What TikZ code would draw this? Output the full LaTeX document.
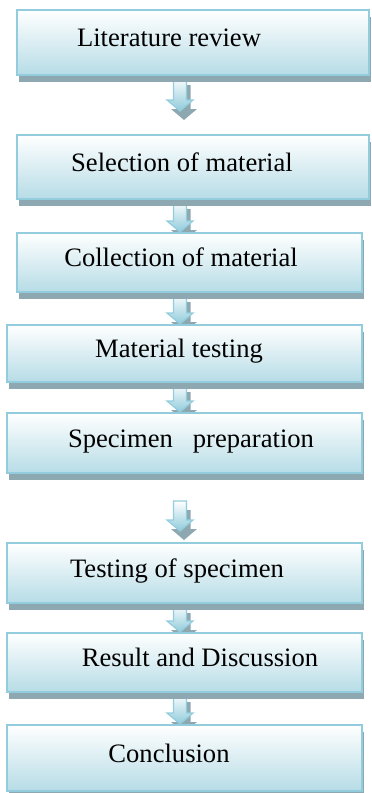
\documentclass[tikz,border=0pt]{standalone}
\usepackage{xcolor}
\usepackage{fontspec}
\setmainfont{Liberation Serif}
\usepackage{tikz}
\usetikzlibrary{calc, shadows, backgrounds}

\definecolor{boxline}{HTML}{93CDDD}
\definecolor{boxfill}{HTML}{B6DCE6}
\definecolor{arrowblue}{HTML}{8FCBDB}
\definecolor{shadowgray}{HTML}{8DA8B0}

\tikzset{
  stepbox/.style={rectangle, draw=boxline, line width=1pt,
    top color=white, bottom color=boxfill,
    drop shadow={shadow xshift=1pt, shadow yshift=-3.5pt, fill=shadowgray, opacity=1}},
  steptext/.style={anchor=base, inner sep=0pt, font=\fontsize{13.3}{16}\selectfont},
  blockarrow/.style={draw=boxline, line width=0.6pt,
    top color=white, bottom color=arrowblue,
    drop shadow={shadow xshift=2pt, shadow yshift=-4.5pt, fill=shadowgray, opacity=1}}
}

% hollow down arrow from box #1 to box #2 (#3 = gap below #1, #4 = gap above #2)
\newcommand{\stepconnect}[4]{%
  \path[blockarrow] let \p1 = ($(#1.south -| axis)+(0,#3)$),
                        \p2 = ($(#2.north -| axis)+(0,-#4)$) in
    (\x1-3.25pt,\y1) -- (\x1+3.25pt,\y1) -- (\x1+3.25pt,\y2+5.5pt)
    -- (\x1+6.5pt,\y2+5.5pt) -- (\x1,\y2) -- (\x1-6.5pt,\y2+5.5pt)
    -- (\x1-3.25pt,\y2+5.5pt) -- cycle;}

\begin{document}
\begin{tikzpicture}[x=0.5pt, y=-0.5pt]

\useasboundingbox (0,0) rectangle (371,793);
\coordinate (axis) at (180,0);

% Boxes
\node[stepbox, minimum width=176pt, minimum height=32.5pt] (review) at (193,42.5) {};
\node[stepbox, minimum width=176pt, minimum height=32pt] (selection) at (193,167) {};
\node[stepbox, minimum width=172.5pt, minimum height=29.5pt] (collection) at (189.5,262.5) {};
\node[stepbox, minimum width=177.5pt, minimum height=28.5pt] (mattest) at (184.5,353.5) {};
\node[stepbox, minimum width=177.5pt, minimum height=30pt] (prep) at (184.5,443) {};
\node[stepbox, minimum width=177.5pt, minimum height=30pt] (spectest) at (184.5,573) {};
\node[stepbox, minimum width=177.5pt, minimum height=29.5pt] (result) at (184.5,662.5) {};
\node[stepbox, minimum width=177.5pt, minimum height=33pt] (conclusion) at (184.5,758) {};

% Labels
\node[steptext] (reviewtext) at (169,46.5) {Literature review};
\node[steptext] (selectiontext) at (182,171) {Selection of material};
\node[steptext] (collectiontext) at (181,266.5) {Collection of material};
\node[steptext] (mattesttext) at (179,357.5) {Material testing};
\node[steptext] (preptext) at (191,447) {Specimen\ \ \ preparation};
\node[steptext] (spectesttext) at (177,577) {Testing of specimen};
\node[steptext] (resulttext) at (200,666.5) {Result and Discussion};
\node[steptext] (conclusiontext) at (169,762) {Conclusion};

% Arrows
\begin{pgfonlayer}{background}
\stepconnect{review}{selection}{0}{23}
\stepconnect{selection}{collection}{0}{0}
\stepconnect{collection}{mattest}{0}{0}
\stepconnect{mattest}{prep}{0}{0}
\stepconnect{prep}{spectest}{27}{11}
\stepconnect{spectest}{result}{0}{0}
\stepconnect{result}{conclusion}{0}{0}
\end{pgfonlayer}

\end{tikzpicture}
\end{document}
